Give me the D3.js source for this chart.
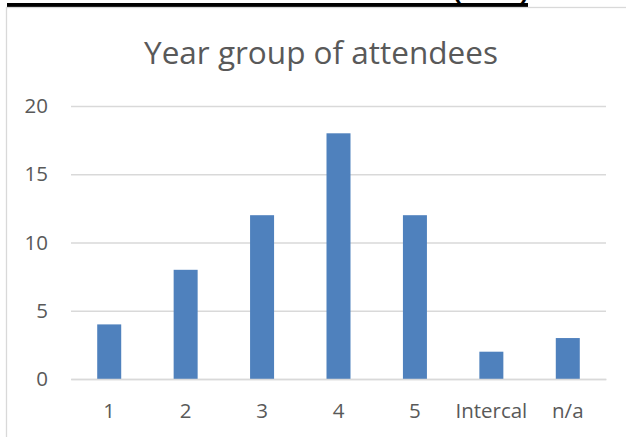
<!DOCTYPE html>
<html>
<head>
<meta charset="utf-8">
<script src="https://cdn.jsdelivr.net/npm/d3@7"></script>
<style>
  body { margin: 0; background: #fff; }
  svg { display: block; font-family: "Open Sans", sans-serif; }
</style>
</head>
<body>
<svg id="chart"></svg>
<script>
const width = 626;
const height = 437;

// données
const categories = ["1", "2", "3", "4", "5", "Intercal", "n/a"];
const attendees = [4, 8, 12, 18, 12, 2, 3];
const yTicks = [0, 5, 10, 15, 20];
const chartTitle = "Year group of attendees";
const pageHeading = "Total Medical evaluation form results (n=59)";

const svg = d3.select("#chart").attr("width", width).attr("height", height);

// titre de la page, coupé en haut (seul le bas des lettres dépasse)
svg.append("text")
  .attr("x", 7)
  .attr("y", -0.5)
  .attr("textLength", 521)
  .attr("lengthAdjust", "spacingAndGlyphs")
  .attr("font-family", "Liberation Sans, sans-serif")
  .attr("font-weight", "bold")
  .attr("font-size", 19)
  .attr("fill", "#000")
  .text(pageHeading);

svg.append("rect")
  .attr("x", 7).attr("y", 3)
  .attr("width", 521).attr("height", 4)
  .attr("fill", "#000");

// cadre du graphique
svg.append("rect")
  .attr("x", 6.5).attr("y", 7.5)
  .attr("width", 640).attr("height", 460)
  .attr("fill", "none")
  .attr("stroke", "#d9d9d9")
  .attr("stroke-width", 1.3);

const left = 71;
const right = 606;

const x = d3.scaleBand()
  .domain(categories)
  .range([left, right])
  .paddingInner(0.686)
  .paddingOuter(0.343);

const y = d3.scaleLinear()
  .domain([0, 20])
  .range([379, 106]);

// titre du graphique
svg.append("text")
  .attr("x", 321)
  .attr("y", 64)
  .attr("text-anchor", "middle")
  .attr("font-size", 31.5)
  .attr("fill", "#595959")
  .text(chartTitle);

// lignes de grille + étiquettes de l'axe Y
const yAxis = d3.axisLeft(y)
  .tickValues(yTicks)
  .tickSize(-(right - left))
  .tickPadding(23);

svg.append("g")
  .attr("transform", `translate(${left},0)`)
  .call(yAxis)
  .call(g => g.select(".domain").remove())
  .call(g => g.selectAll(".tick line")
    .attr("stroke", "#d9d9d9")
    .attr("stroke-width", 1.3))
  .call(g => g.selectAll(".tick text")
    .attr("font-size", 20.5)
    .attr("font-family", "Open Sans, sans-serif")
    .attr("fill", "#595959"));

// barres
svg.append("g")
  .selectAll("rect")
  .data(attendees)
  .enter()
  .append("rect")
  .attr("x", (d, i) => x(categories[i]))
  .attr("width", x.bandwidth())
  .attr("y", d => y(d))
  .attr("height", d => y(0) - y(d))
  .attr("fill", "#4f81bd");

// axe X
const xAxis = d3.axisBottom(x).tickSize(0).tickPadding(24);

svg.append("g")
  .attr("transform", `translate(0,${y(0)})`)
  .call(xAxis)
  .call(g => g.select(".domain")
    .attr("stroke", "#d9d9d9")
    .attr("stroke-width", 1.3))
  .call(g => g.selectAll(".tick text")
    .attr("font-size", 20.5)
    .attr("font-family", "Open Sans, sans-serif")
    .attr("fill", "#595959"));
</script>
</body>
</html>
